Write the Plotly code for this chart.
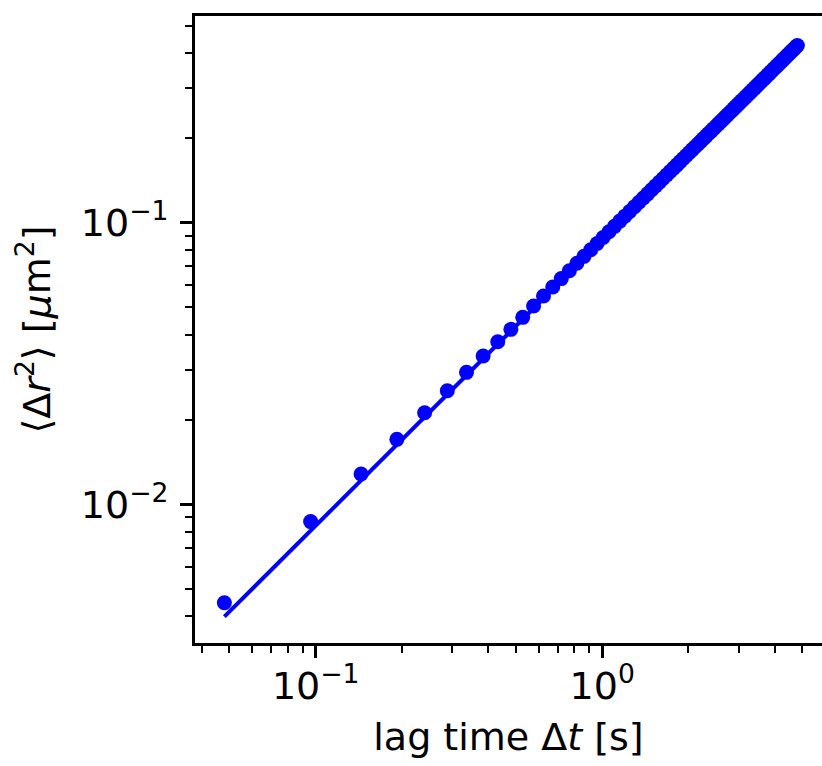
import plotly.graph_objects as go

# lag times [s]
lag_time = [
    0.048, 0.096, 0.144, 0.192, 0.240, 0.288, 0.336, 0.384, 0.432, 0.480,
    0.528, 0.576, 0.624, 0.672, 0.720, 0.768, 0.816, 0.864, 0.912, 0.960,
    1.008, 1.056, 1.104, 1.152, 1.200, 1.248, 1.296, 1.344, 1.392, 1.440,
    1.488, 1.536, 1.584, 1.632, 1.680, 1.728, 1.776, 1.824, 1.872, 1.920,
    1.968, 2.016, 2.064, 2.112, 2.160, 2.208, 2.256, 2.304, 2.352, 2.400,
    2.448, 2.496, 2.544, 2.592, 2.640, 2.688, 2.736, 2.784, 2.832, 2.880,
    2.928, 2.976, 3.024, 3.072, 3.120, 3.168, 3.216, 3.264, 3.312, 3.360,
    3.408, 3.456, 3.504, 3.552, 3.600, 3.648, 3.696, 3.744, 3.792, 3.840,
    3.888, 3.936, 3.984, 4.032, 4.080, 4.128, 4.176, 4.224, 4.272, 4.320,
    4.368, 4.416, 4.464, 4.512, 4.560, 4.608, 4.656, 4.704, 4.752, 4.800,
]

# ensemble MSD [um^2]
msd = [
    0.00447, 0.00868, 0.01281, 0.01701, 0.02115, 0.02531, 0.02942, 0.03362, 0.03780, 0.04181,
    0.04613, 0.05059, 0.05490, 0.05911, 0.06332, 0.06753, 0.07175, 0.07596, 0.08018, 0.08440,
    0.08862, 0.09284, 0.09706, 0.1013, 0.1055, 0.1097, 0.1140, 0.1182, 0.1224, 0.1266,
    0.1309, 0.1351, 0.1393, 0.1436, 0.1478, 0.1521, 0.1563, 0.1605, 0.1648, 0.1690,
    0.1733, 0.1775, 0.1818, 0.1860, 0.1903, 0.1945, 0.1988, 0.2030, 0.2073, 0.2115,
    0.2158, 0.2200, 0.2243, 0.2286, 0.2328, 0.2371, 0.2414, 0.2456, 0.2499, 0.2542,
    0.2584, 0.2627, 0.2670, 0.2713, 0.2755, 0.2798, 0.2841, 0.2884, 0.2926, 0.2969,
    0.3012, 0.3055, 0.3098, 0.3141, 0.3184, 0.3226, 0.3269, 0.3312, 0.3355, 0.3398,
    0.3441, 0.3484, 0.3527, 0.3570, 0.3613, 0.3656, 0.3699, 0.3742, 0.3785, 0.3828,
    0.3871, 0.3915, 0.3958, 0.4001, 0.4044, 0.4087, 0.4130, 0.4173, 0.4217, 0.4260,
]

# power-law fit line (end points)
fit_time = [0.048, 4.800]
fit_msd = [0.003991, 0.4260]

x_tick_vals = [0.1, 1]
x_tick_text = ["10<sup>\u22121</sup>", "10<sup>0</sup>"]
y_tick_vals = [0.01, 0.1]
y_tick_text = ["10<sup>\u22122</sup>", "10<sup>\u22121</sup>"]
x_minor = [0.04, 0.05, 0.06, 0.07, 0.08, 0.09, 0.2, 0.3, 0.4, 0.5, 0.6, 0.7, 0.8, 0.9, 2, 3, 4, 5]
y_minor = [0.004, 0.005, 0.006, 0.007, 0.008, 0.009, 0.02, 0.03, 0.04, 0.05, 0.06, 0.07,
           0.08, 0.09, 0.2, 0.3, 0.4, 0.5]

FONT = "DejaVu Sans"
BLUE = "#0000ff"

fig = go.Figure()
fig.add_trace(go.Scatter(x=fit_time, y=fit_msd, mode="lines",
                         line=dict(color=BLUE, width=4), showlegend=False))
fig.add_trace(go.Scatter(x=lag_time, y=msd, mode="markers",
                         marker=dict(color=BLUE, size=15, line=dict(width=0)),
                         showlegend=False))

axis_common = dict(
    type="log", showgrid=False, zeroline=False, automargin=False,
    showline=True, linecolor="black", linewidth=3,
    ticks="outside", ticklen=12, tickwidth=3, tickcolor="black",
    tickfont=dict(family=FONT, size=38, color="black"),
    tickmode="array",
)

fig.update_xaxes(
    **axis_common,
    range=[-1.4213, 0.7672], mirror=True,
    tickvals=x_tick_vals, ticktext=x_tick_text,
    ticklabelstandoff=-5,
    minor=dict(ticks="outside", ticklen=7, tickwidth=2, tickcolor="black",
               tickmode="array", tickvals=x_minor, showgrid=False),
    title=dict(text="lag time \u0394<i>t</i> [s]", font=dict(family=FONT, size=38, color="black"),
               standoff=17),
)
fig.update_yaxes(
    **axis_common,
    range=[-2.4925, -0.266], mirror=False,
    tickvals=y_tick_vals, ticktext=y_tick_text,
    ticklabelstandoff=4,
    minor=dict(ticks="outside", ticklen=7, tickwidth=2, tickcolor="black",
               tickmode="array", tickvals=y_minor, showgrid=False),
    title=dict(text="\u27e8\u0394<i>r</i><sup>2</sup>\u27e9 [<i>\u03bc</i>m<sup>2</sup>]",
               font=dict(family=FONT, size=38, color="black"), standoff=19),
)

fig.update_layout(
    width=822, height=766,
    margin=dict(l=195, r=0, t=16, b=123, pad=0),
    paper_bgcolor="white", plot_bgcolor="white",
    font=dict(family=FONT, color="black"),
)

fig.write_html(
    "out.html",
    config={"displayModeBar": False},
    post_script="document.body.style.margin='0';document.body.style.overflow='hidden';",
)
